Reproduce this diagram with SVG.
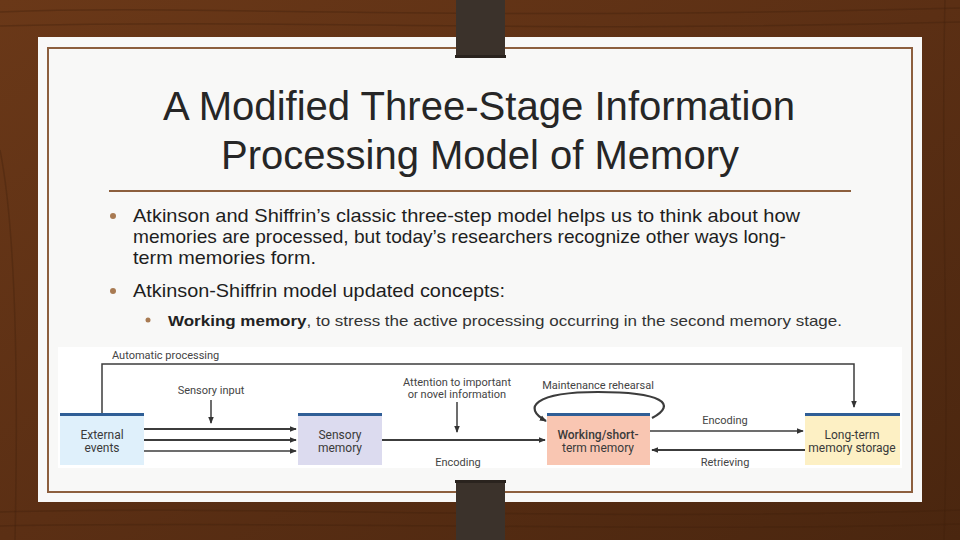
<svg xmlns="http://www.w3.org/2000/svg" width="960" height="540" viewBox="0 0 960 540">
<defs>
<linearGradient id="wood" x1="0" y1="0" x2="1" y2="1">
<stop offset="0" stop-color="#6a3818"/>
<stop offset="0.5" stop-color="#5b2f14"/>
<stop offset="1" stop-color="#4a260f"/>
</linearGradient>
<marker id="ah" viewBox="0 0 8 8" refX="7" refY="4" markerWidth="7" markerHeight="7" markerUnits="userSpaceOnUse" orient="auto">
<path d="M0,0.8 L8,4 L0,7.2 Z" fill="#333"/>
</marker>
<style>
.title{font-family:"Liberation Sans",Arial,sans-serif;font-size:40px;fill:#262626;text-anchor:middle}
.body{font-family:"Liberation Sans",Arial,sans-serif;font-size:19px;fill:#1e1e1e}
.sub{font-family:"Liberation Sans",Arial,sans-serif;font-size:15px;fill:#333}
.bul{fill:#a87a52}
.lbl{font-family:Roboto,"Liberation Sans",sans-serif;font-size:11px;fill:#444;text-anchor:middle}
.box{font-family:Roboto,"Liberation Sans",sans-serif;font-size:12px;fill:#3a3a3a;text-anchor:middle}
.ln{stroke:#3c3c3c;fill:none;stroke-width:1.5}
.lnt{stroke:#3c3c3c;fill:none;stroke-width:2.2}
.bar{fill:#2f5e96}
.grain{stroke:#3e1f0b;stroke-opacity:0.35;fill:none;stroke-width:1.5}
</style>
</defs>
<rect width="960" height="540" fill="url(#wood)"/>
<g class="grain">
<path d="M0 12 C200 4 400 22 960 8"/>
<path d="M0 26 C300 18 500 34 960 22"/>
<path d="M0 512 C250 505 600 522 960 510"/>
<path d="M0 526 C300 520 650 533 960 524"/>
<path d="M0 150 C10 200 20 300 15 540"/>
<path d="M945 0 C940 200 950 350 944 540"/>
</g>
<rect x="38" y="37" width="884" height="465" fill="#f8f8f7"/>
<rect x="48" y="48" width="864" height="444" fill="none" stroke="#8c5f3d" stroke-width="2"/>
<rect x="456" y="0" width="49" height="58" fill="#3b322b"/>
<rect x="455" y="55" width="51" height="3" fill="#2a231e"/>
<rect x="456" y="480" width="49" height="60" fill="#3b322b"/>
<rect x="455" y="480" width="51" height="3" fill="#2a231e"/>
<text class="title" x="479" y="120" textLength="632" lengthAdjust="spacingAndGlyphs">A Modified Three-Stage Information</text>
<text class="title" x="480" y="169">Processing Model of Memory</text>
<line x1="109" y1="191" x2="851" y2="191" stroke="#8c5f3d" stroke-width="2"/>
<circle class="bul" cx="113" cy="216" r="3"/>
<text class="body" x="133" y="222" textLength="667" lengthAdjust="spacingAndGlyphs">Atkinson and Shiffrin’s classic three-step model helps us to think about how</text>
<text class="body" x="133" y="243" textLength="653" lengthAdjust="spacingAndGlyphs">memories are processed, but today’s researchers recognize other ways long-</text>
<text class="body" x="133" y="264" textLength="183" lengthAdjust="spacingAndGlyphs">term memories form.</text>
<circle class="bul" cx="113" cy="291" r="3"/>
<text class="body" x="133" y="297" textLength="372" lengthAdjust="spacingAndGlyphs">Atkinson-Shiffrin model updated concepts:</text>
<circle class="bul" cx="148" cy="320" r="2.5"/>
<text class="sub" x="168" y="326" textLength="674" lengthAdjust="spacingAndGlyphs"><tspan font-weight="bold" fill="#222">Working memory</tspan>, to stress the active processing occurring in the second memory stage.</text>
<rect x="58" y="347" width="844" height="121" fill="#ffffff"/>
<g id="external">
<rect x="60" y="415" width="84" height="50" fill="#dff0fb"/>
<rect class="bar" x="60" y="413" width="84" height="3"/>
<text class="box" x="102" y="439">External</text>
<text class="box" x="102" y="452">events</text>
</g>
<g id="sensory">
<rect x="298" y="415" width="84" height="50" fill="#dcdbef"/>
<rect class="bar" x="298" y="413" width="84" height="3"/>
<text class="box" x="340" y="439">Sensory</text>
<text class="box" x="340" y="452">memory</text>
</g>
<g id="working">
<rect x="547" y="415" width="103" height="50" fill="#f9c6b2"/>
<rect class="bar" x="547" y="413" width="103" height="3"/>
<text class="box" x="598" y="439" font-weight="500">Working/short-</text>
<text class="box" x="598" y="452">term memory</text>
</g>
<g id="longterm">
<rect x="805" y="415" width="95" height="50" fill="#fdf0c4"/>
<rect class="bar" x="805" y="413" width="95" height="3"/>
<text class="box" x="852" y="439">Long-term</text>
<text class="box" x="852" y="452">memory storage</text>
</g>
<g id="labels">
<text class="lbl" x="112" y="359" style="text-anchor:start">Automatic processing</text>
<text class="lbl" x="211" y="394">Sensory input</text>
<text class="lbl" x="457" y="386">Attention to important</text>
<text class="lbl" x="457" y="398">or novel information</text>
<text class="lbl" x="458" y="466">Encoding</text>
<text class="lbl" x="598" y="389">Maintenance rehearsal</text>
<text class="lbl" x="725" y="424">Encoding</text>
<text class="lbl" x="725" y="466">Retrieving</text>
</g>
<g id="connectors">
<path class="ln" d="M102 413 V364 H854 V407" marker-end="url(#ah)"/>
<path class="lnt" d="M144 429 H296" marker-end="url(#ah)"/>
<path class="lnt" d="M144 440 H296" marker-end="url(#ah)"/>
<path class="ln" d="M144 451 H296" marker-end="url(#ah)"/>
<path class="ln" d="M211 400 V423" marker-end="url(#ah)"/>
<path class="lnt" d="M382 440 H545" marker-end="url(#ah)"/>
<path class="ln" d="M457 402 V432" marker-end="url(#ah)"/>
<path class="ln" d="M650 431 H803" marker-end="url(#ah)"/>
<path class="lnt" d="M805 450 H652" marker-end="url(#ah)"/>
<path class="lnt" d="M652 418 C678 404 662 392 598 392 C534 392 522 408 546 421" marker-end="url(#ah)"/>
</g>
</svg>
